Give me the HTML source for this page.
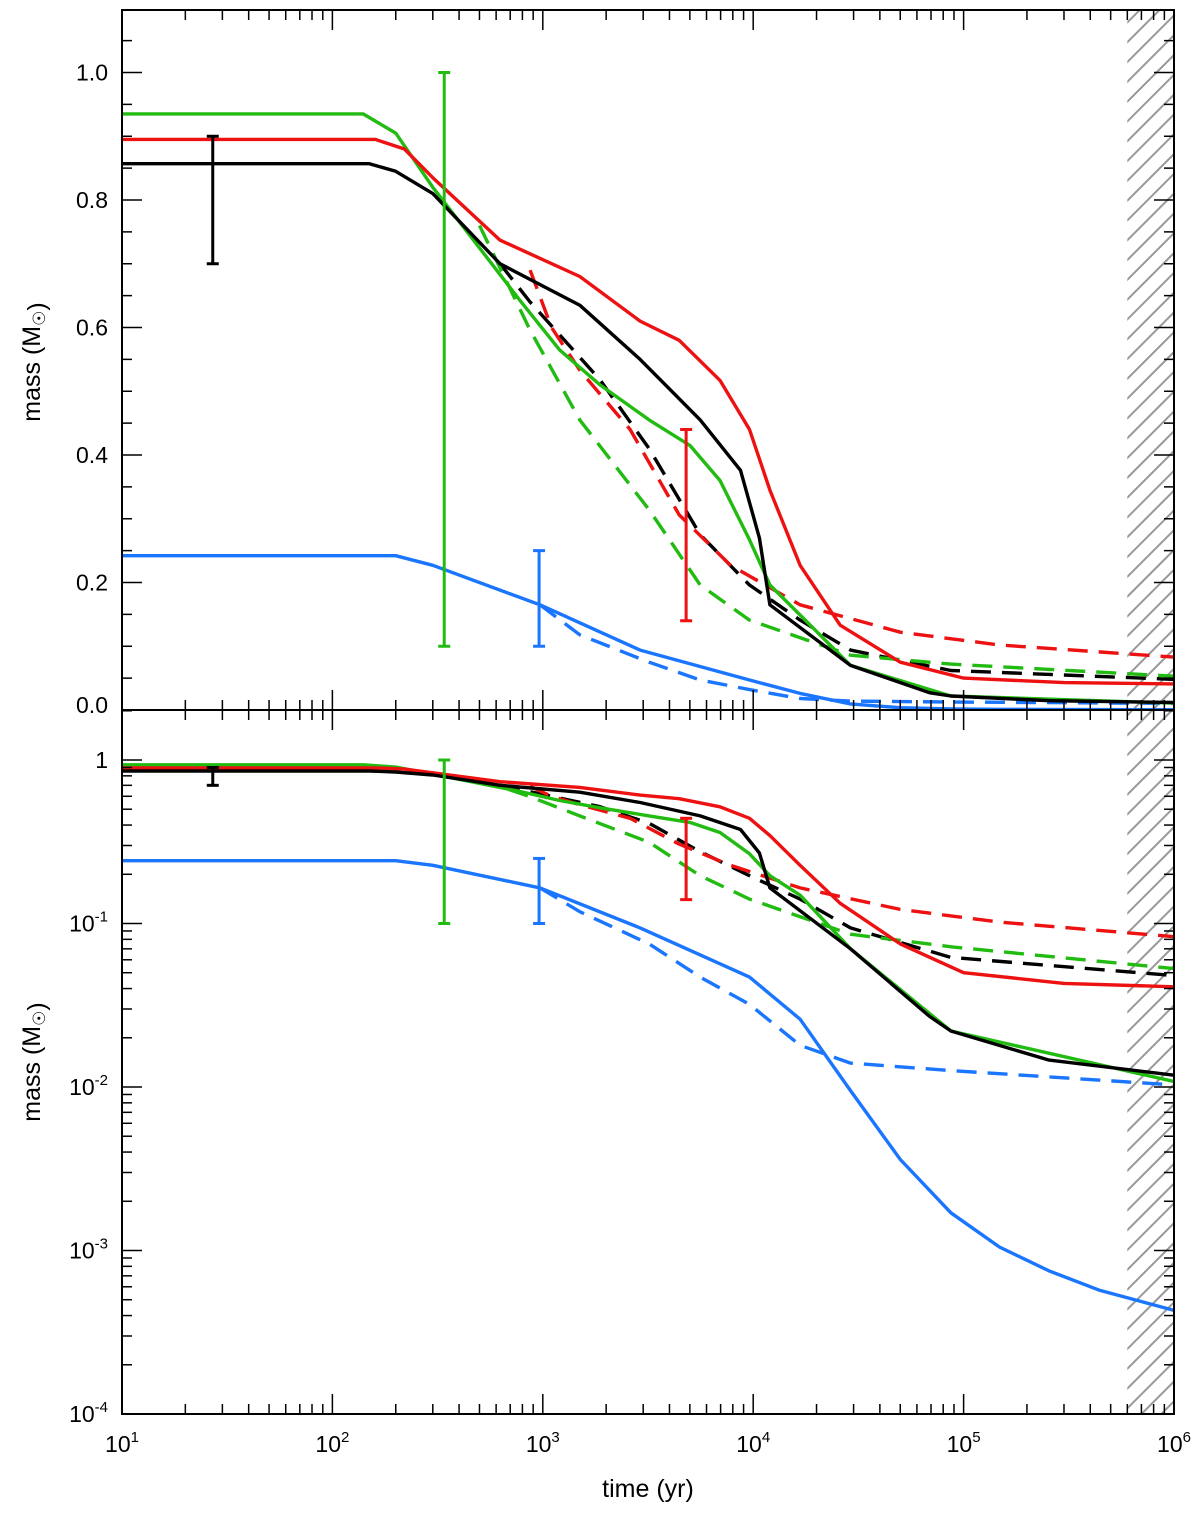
<!DOCTYPE html>
<html><head><meta charset="utf-8">
<style>
body{margin:0;background:#fff;}
svg{display:block;font-family:"Liberation Sans","DejaVu Sans",sans-serif;}
</style></head>
<body>
<svg id="chart" width="1200" height="1524" viewBox="0 0 1200 1524" xmlns="http://www.w3.org/2000/svg">
<defs>
<pattern id="hatch" patternUnits="userSpaceOnUse" width="14" height="14" patternTransform="rotate(45)">
<line x1="0" y1="0" x2="0" y2="14" stroke="#999" stroke-width="4"/>
</pattern>
<clipPath id="clipTop"><rect x="122" y="10" width="1052" height="700"/></clipPath>
<clipPath id="clipBot"><rect x="122" y="710" width="1052" height="704"/></clipPath>
</defs>
<g id="layer"></g>
</svg>
<script>
// ---- data ----
const blackSolidT=[10,150,200,300,627,1500,2900,5600,8700,10700,12000,29000,69000,87000,255000,1e6];
const blackSolidM=[0.857,0.857,0.845,0.81,0.70,0.635,0.55,0.455,0.376,0.27,0.165,0.07,0.027,0.022,0.0146,0.0118];
const redSolidT=[10,160,220,300,627,1500,2900,4450,6950,9600,12000,16700,25900,50000,100000,300000,1e6];
const redSolidM=[0.895,0.895,0.88,0.835,0.737,0.68,0.61,0.58,0.517,0.44,0.345,0.227,0.133,0.075,0.05,0.043,0.041];
const greenSolidT=[10,140,200,300,777,1200,1870,3200,5000,6950,9600,12000,16700,29000,87000,1e6];
const greenSolidM=[0.935,0.935,0.905,0.82,0.643,0.565,0.51,0.455,0.415,0.36,0.267,0.196,0.149,0.07,0.022,0.0108];
const blueSolidT=[10,200,300,970,2900,9600,16700,29000,50000,87000,148000,255000,445000,1e6];
const blueSolidM=[0.242,0.242,0.227,0.165,0.094,0.047,0.026,0.0095,0.0036,0.0017,0.00105,0.00075,0.00057,0.00043];
const blackDashT=[627,870,1870,3200,5600,9600,16700,29000,87000,1e6];
const blackDashM=[0.70,0.64,0.518,0.41,0.275,0.196,0.141,0.094,0.062,0.048];
const redDashT=[870,1100,1500,2600,4450,7800,16700,50000,148000,1e6];
const redDashM=[0.69,0.60,0.533,0.44,0.306,0.227,0.165,0.122,0.102,0.083];
const greenDashT=[500,870,1500,3200,5600,9600,29000,87000,1e6];
const greenDashM=[0.76,0.596,0.455,0.314,0.196,0.141,0.086,0.072,0.053];
const blueDashT=[970,1500,3200,5600,9600,16700,29000,87000,1e6];
const blueDashM=[0.165,0.118,0.075,0.047,0.032,0.018,0.014,0.0126,0.0103];
const errT=[27,340,960,4800];
const errLo=[0.70,0.10,0.10,0.14];
const errHi=[0.90,1.00,0.25,0.44];
const errColors=["#000","#22bb11","#1a75ff","#ee1111"];
const linTicks=["0.0","0.2","0.4","0.6","0.8","1.0"];
const linTickVals=[0,0.2,0.4,0.6,0.8,1.0];
const logTickExp=[0,-1,-2,-3,-4];
const xTickExp=[1,2,3,4,5,6];

// ---- axes ----
const L=122,R=1174,T1=10,B1=710,B2=1414;
const xs=t=>L+(Math.log10(t)-1)*(R-L)/5;
const yTop=m=>710-m*637.5;
const yBot=m=>760-Math.log10(m)*163.5;
const NS="http://www.w3.org/2000/svg";
const layer=document.getElementById('layer');
function mk(tag,attrs,parent){const e=document.createElementNS(NS,tag);for(const k in attrs)e.setAttribute(k,attrs[k]);(parent||layer).appendChild(e);return e;}

// hatch region
const h1=mk('rect',{x:xs(6e5),y:T1,width:R-xs(6e5),height:B2-T1,fill:'url(#hatch)'});



function series(T,M,color,dash,name){
  [['top',yTop,'url(#clipTop)'],['bottom',yBot,'url(#clipBot)']].forEach(([p,yf,cp])=>{
    const d=T.map((t,i)=>(i?'L':'M')+xs(t).toFixed(1)+','+yf(M[i]).toFixed(1)).join(' ');
    const e=mk('path',{d:d,fill:'none',stroke:color,'stroke-width':3.4,'stroke-dasharray':dash?'20 11':'none','clip-path':cp,'stroke-linejoin':'round'});
    
    
  });
}
series(blackDashT,blackDashM,'#000',true,'black-dashed-line');
series(redDashT,redDashM,'#ee1111',true,'red-dashed-line');
series(greenDashT,greenDashM,'#22bb11',true,'green-dashed-line');
series(blueDashT,blueDashM,'#1a75ff',true,'blue-dashed-line');
series(blueSolidT,blueSolidM,'#1a75ff',false,'blue-solid-line');
series(greenSolidT,greenSolidM,'#22bb11',false,'green-solid-line');
series(redSolidT,redSolidM,'#ee1111',false,'red-solid-line');
series(blackSolidT,blackSolidM,'#000',false,'black-solid-line');

// error bars
errT.forEach((t,i)=>{
  [['top',yTop,'url(#clipTop)'],['bottom',yBot,'url(#clipBot)']].forEach(([p,yf,cp])=>{
    const x=xs(t),y1=yf(errLo[i]),y2=yf(errHi[i]);
    const g=mk('g',{stroke:errColors[i],'stroke-width':3,'clip-path':cp});
    
    
    mk('line',{x1:x,x2:x,y1:y1,y2:y2},g);
    mk('line',{x1:x-6,x2:x+6,y1:y1,y2:y1},g);
    mk('line',{x1:x-6,x2:x+6,y1:y2,y2:y2},g);
  });
});

// frames
const fr=mk('g',{stroke:'#000','stroke-width':2,fill:'none'});


mk('rect',{x:L,y:T1,width:R-L,height:B1-T1},fr);
mk('rect',{x:L,y:B1,width:R-L,height:B2-B1},fr);

// x ticks
const tk=mk('g',{stroke:'#000','stroke-width':1.5});


for(let e=1;e<=6;e++){for(let k=1;k<=9;k++){if(e==6&&k>1)break;
  const x=xs(k*Math.pow(10,e));const len=k==1?20:10;
  [[T1,1],[B1,1],[B1,-1],[B2,-1]].forEach(([y,s])=>mk('line',{x1:x,x2:x,y1:y,y2:y+s*len},tk));
}}
// top y ticks
for(let i=0;i<=22;i++){const m=i*0.05;const y=yTop(m);if(y<T1-0.5)break;const len=(i%4==0)?20:10;
  mk('line',{x1:L,x2:L+len,y1:y,y2:y},tk);mk('line',{x1:R,x2:R-len,y1:y,y2:y},tk);}
// bottom y ticks
for(let e=-5;e<=0;e++){for(let k=1;k<=9;k++){const y=yBot(k*Math.pow(10,e));if(y>B2+0.5||y<B1)continue;const len=k==1?20:10;
  mk('line',{x1:L,x2:L+len,y1:y,y2:y},tk);mk('line',{x1:R,x2:R-len,y1:y,y2:y},tk);}}

// labels
function txt(s,attrs,name){const e=mk('text',Object.assign({'font-size':23,fill:'#000'},attrs));e.innerHTML=s;
  return e;}
linTicks.forEach((s,i)=>{let y=yTop(linTickVals[i])+8;if(i==0)y-=5;txt(s,{x:108,y:y,'text-anchor':'end'},'y-tick-top');});
logTickExp.forEach(e=>{const y=yBot(Math.pow(10,e))+8;
  if(e==0)txt('1',{x:108,y:y,'text-anchor':'end'},'y-tick-bottom');
  else txt('10<tspan font-size="15" dy="-10">'+e+'</tspan>',{x:108,y:y,'text-anchor':'end'},'y-tick-bottom');});
xTickExp.forEach(e=>{const x=xs(Math.pow(10,e));
  txt('10<tspan font-size="15" dy="-10">'+e+'</tspan>',{x:x,y:1452,'text-anchor':'middle'},'x-tick-label');});
txt('time (yr)',{x:648,y:1497,'text-anchor':'middle','font-size':25},'x-axis-title');
txt('mass (M<tspan font-size="17" dy="5">☉</tspan>)',{x:0,y:0,'text-anchor':'middle','font-size':25,transform:'translate(40,362) rotate(-90)'},'y-axis-title-top');
txt('mass (M<tspan font-size="17" dy="5">☉</tspan>)',{x:0,y:0,'text-anchor':'middle','font-size':25,transform:'translate(40,1062) rotate(-90)'},'y-axis-title-bottom');
</script>
</body></html>
